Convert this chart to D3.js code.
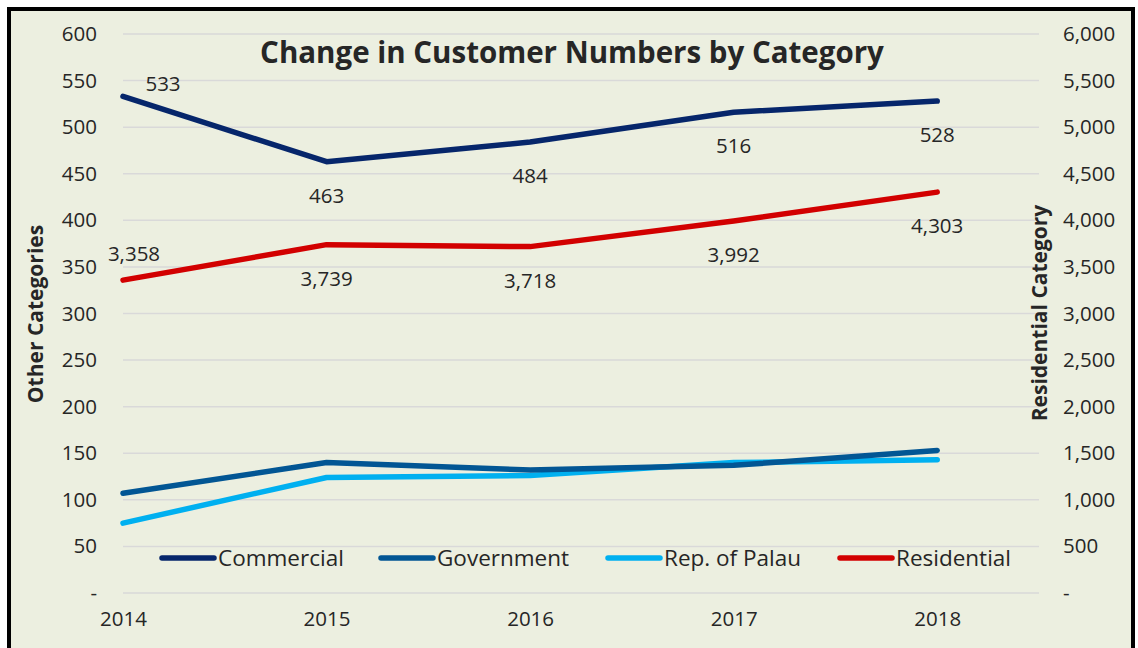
<!DOCTYPE html>
<html>
<head>
<meta charset="utf-8">
<script src="https://cdn.jsdelivr.net/npm/d3@7"></script>
<style>
  html, body { margin: 0; padding: 0; background: #ffffff; }
  svg { display: block; }
  text { font-family: "Open Sans", "Noto Sans", sans-serif; fill: #262626; }
</style>
</head>
<body>
<svg id="chart"></svg>
<script>
var years = [2014, 2015, 2016, 2017, 2018]
var commercial = [533, 463, 484, 516, 528]
var government = [107, 140, 132, 137, 153]
var palau = [75, 124, 126, 140, 143]
var residential = [3358, 3739, 3718, 3992, 4303]
var leftTicks = [0, 50, 100, 150, 200, 250, 300, 350, 400, 450, 500, 550, 600]
var rightTicks = [0, 500, 1000, 1500, 2000, 2500, 3000, 3500, 4000, 4500, 5000, 5500, 6000]

var width = 1138
var height = 648
var tickFont = 20.5

var svg = d3.select("#chart")
    .attr("width", width)
    .attr("height", height)

/* frame */
svg.append("rect")
    .attr("x", 9).attr("y", 9)
    .attr("width", 1124).attr("height", 680)
    .attr("fill", "#ecefe0")
    .attr("stroke", "#000")
    .attr("stroke-width", 4)

/* scales */
var x = d3.scaleLinear()
    .domain([2014, 2018.5])
    .range([123, 1039])

var yLeft = d3.scaleLinear()
    .domain([0, 600])
    .range([593, 34])

var yRight = d3.scaleLinear()
    .domain([0, 6000])
    .range([593, 34])

/* gridlines */
svg.append("g")
    .selectAll("line")
    .data(leftTicks)
    .enter()
        .append("line")
            .attr("x1", x(2014))
            .attr("x2", x(2018.5))
            .attr("y1", (d) => yLeft(d))
            .attr("y2", (d) => yLeft(d))
            .attr("stroke", "#d9d9d9")
            .attr("stroke-width", 1.5)

var fmt = (d) => d === 0 ? "-" : d3.format(",")(d)

/* left axis */
var leftAxis = d3.axisLeft(yLeft)
    .tickValues(leftTicks)
    .tickFormat(fmt)
    .tickSize(0)
    .tickPadding(0)

svg.append("g")
    .attr("transform", "translate(97,0)")
    .call(leftAxis)
    .call((g) => g.select(".domain").remove())
    .selectAll("text")
        .attr("font-size", tickFont)
        .attr("font-family", "Open Sans")
        .attr("fill", "#262626")

/* right axis */
var rightAxis = d3.axisRight(yRight)
    .tickValues(rightTicks)
    .tickFormat(fmt)
    .tickSize(0)
    .tickPadding(0)

svg.append("g")
    .attr("transform", "translate(1063,0)")
    .call(rightAxis)
    .call((g) => g.select(".domain").remove())
    .selectAll("text")
        .attr("font-size", tickFont)
        .attr("font-family", "Open Sans")
        .attr("fill", "#262626")

/* x axis */
var xAxis = d3.axisBottom(x)
    .tickValues(years)
    .tickFormat(d3.format("d"))
    .tickSize(0)
    .tickPadding(0)

svg.append("g")
    .attr("transform", "translate(0,611)")
    .call(xAxis)
    .call((g) => g.select(".domain").remove())
    .selectAll("text")
        .attr("font-size", tickFont)
        .attr("font-family", "Open Sans")
        .attr("fill", "#262626")

/* series */
var series = [
    { name: "Commercial", values: commercial, scale: yLeft, color: "#06266b" },
    { name: "Government", values: government, scale: yLeft, color: "#025694" },
    { name: "Rep. of Palau", values: palau, scale: yLeft, color: "#00b0f0" },
    { name: "Residential", values: residential, scale: yRight, color: "#d20000" }
]

var drawOrder = [series[3], series[0], series[2], series[1]]

drawOrder.forEach((s) => {
    var line = d3.line()
        .x((d, i) => x(years[i]))
        .y((d) => s.scale(d))
    svg.append("path")
        .datum(s.values)
        .attr("d", line)
        .attr("fill", "none")
        .attr("stroke", s.color)
        .attr("stroke-width", 5.5)
        .attr("stroke-linecap", "round")
        .attr("stroke-linejoin", "round")
})

/* data labels: first point sits above, the rest below */
function addLabels(values, scale, firstDx, firstDy) {
    svg.append("g")
        .selectAll("text")
        .data(values)
        .enter()
            .append("text")
                .attr("x", (d, i) => x(years[i]) + (i === 0 ? firstDx : 0))
                .attr("y", (d, i) => scale(d) + (i === 0 ? firstDy : 41))
                .attr("text-anchor", "middle")
                .attr("font-size", tickFont)
                .text((d) => d3.format(",")(d))
}
addLabels(commercial, yLeft, 40, -5)
addLabels(residential, yRight, 11, -19)

/* title */
svg.append("text")
    .attr("x", 572)
    .attr("y", 63)
    .attr("text-anchor", "middle")
    .attr("font-size", 29.5)
    .attr("font-weight", "bold")
    .attr("fill", "#000")
    .text("Change in Customer Numbers by Category")

/* axis titles */
svg.append("text")
    .attr("transform", "translate(43,314) rotate(-90)")
    .attr("text-anchor", "middle")
    .attr("font-size", 21)
    .attr("font-weight", "bold")
    .attr("fill", "#000")
    .text("Other Categories")

svg.append("text")
    .attr("transform", "translate(1047,313) rotate(-90)")
    .attr("text-anchor", "middle")
    .attr("font-size", 21)
    .attr("font-weight", "bold")
    .attr("fill", "#000")
    .text("Residential Category")

/* legend */
var legendX = [162, 381, 608, 840]
var legend = svg.append("g")
series.forEach((s, i) => {
    legend.append("line")
        .attr("x1", legendX[i])
        .attr("x2", legendX[i] + 52)
        .attr("y1", 558)
        .attr("y2", 558)
        .attr("stroke", s.color)
        .attr("stroke-width", 5.5)
        .attr("stroke-linecap", "round")
    legend.append("text")
        .attr("x", legendX[i] + 56)
        .attr("y", 566)
        .attr("font-size", 22.5)
        .text(s.name)
})
</script>
</body>
</html>
